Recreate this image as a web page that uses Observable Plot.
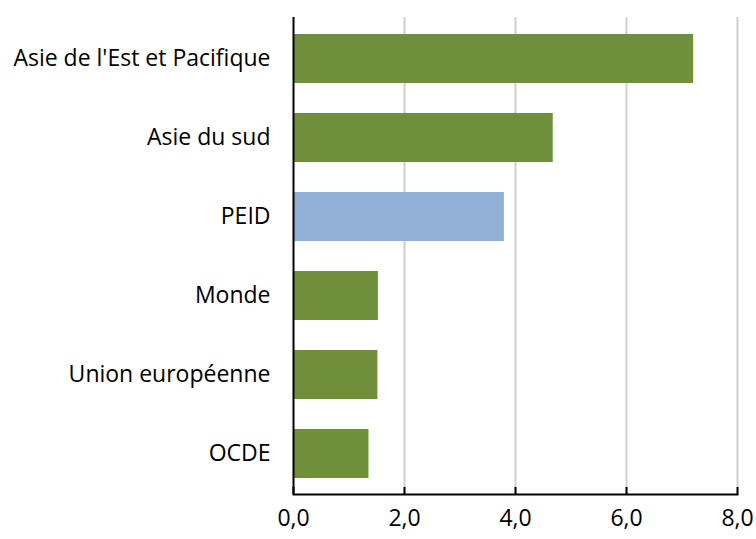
<!DOCTYPE html>
<html>
<head>
<meta charset="utf-8">
<script src="https://cdn.jsdelivr.net/npm/d3@7"></script>
<script src="https://cdn.jsdelivr.net/npm/@observablehq/plot@0.6"></script>
<style>
  html, body { margin: 0; padding: 0; background: #fff; }
  #chart svg { display: block; }
</style>
</head>
<body>
<div id="chart"></div>
<script>
const categories = ["Asie de l'Est et Pacifique", "Asie du sud", "PEID", "Monde", "Union européenne", "OCDE"];
const values = [7.21, 4.68, 3.80, 1.53, 1.52, 1.36];
const highlight = ["PEID"];
const xTicks = [0, 2, 4, 6, 8];
const gridTicks = [2, 4, 6, 8];

const data = categories.map((c, i) => ({category: c, value: values[i]}));
const fmt = d => d.toFixed(1).replace(".", ",");

const chart = Plot.plot({
  width: 756,
  height: 539,
  marginTop: 17,
  marginBottom: 45,
  marginLeft: 293,
  marginRight: 19,
  style: {fontFamily: "'Open Sans', sans-serif", fontSize: "23px", color: "#000", background: "#fff"},
  x: {domain: [0, 8], axis: null, label: null},
  y: {domain: categories, paddingInner: 0.385, paddingOuter: 0.1925, axis: null, label: null},
  marks: [
    Plot.ruleX(gridTicks, {stroke: "#d0d0d0", strokeWidth: 2}),
    Plot.barX(data, {
      y: "category",
      x: "value",
      fill: d => highlight.includes(d.category) ? "#92AFD7" : "#6F8F3B"
    }),
    Plot.ruleX([0], {stroke: "#000", strokeWidth: 2}),
    Plot.frame({anchor: "bottom", stroke: "#000", strokeWidth: 2}),
    Plot.axisX(xTicks, {
      anchor: "bottom",
      label: null,
      tickFormat: fmt,
      tickSize: -7,
      tickPadding: 22,
      stroke: "#000",
      strokeWidth: 2,
      fontSize: 23
    }),
    Plot.axisY({
      anchor: "left",
      label: null,
      tickSize: 0,
      tickPadding: 23,
      fontSize: 23
    })
  ]
});
document.getElementById("chart").appendChild(chart);
</script>
</body>
</html>
